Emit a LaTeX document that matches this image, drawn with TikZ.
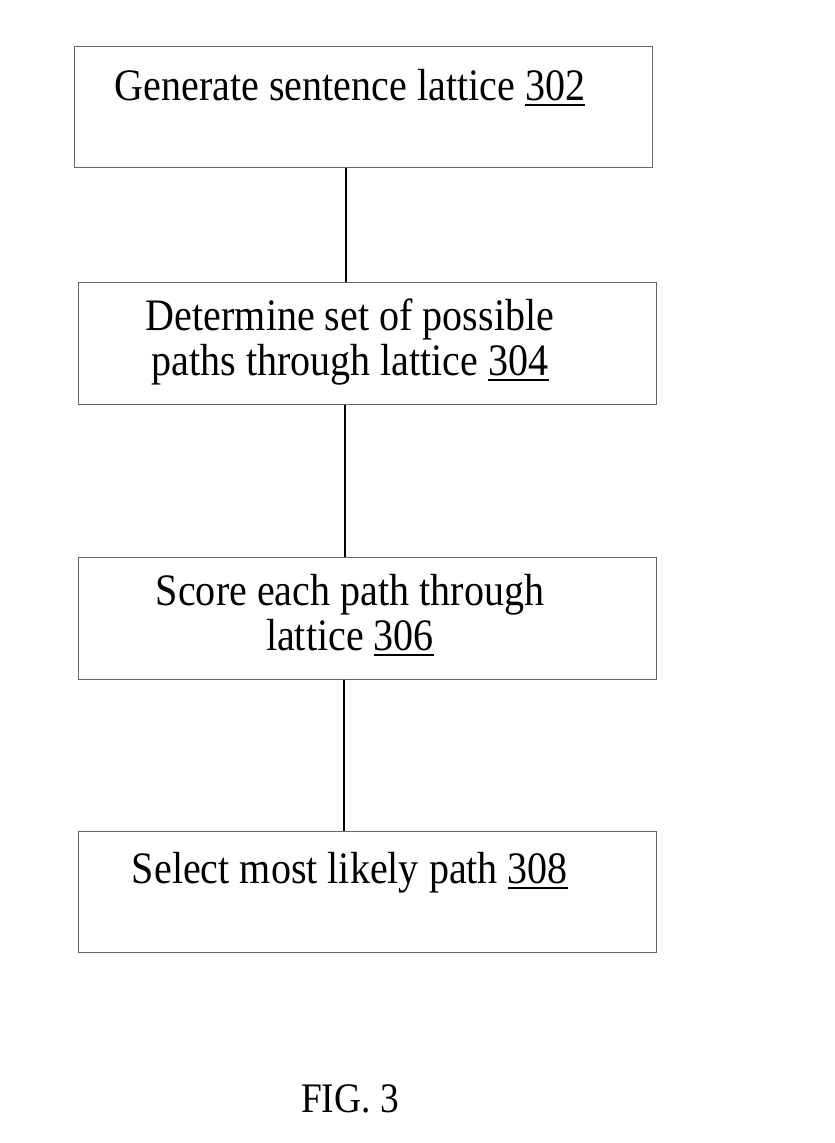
\documentclass[tikz,border=0pt]{standalone}
\usepackage{fontspec}
\setmainfont[FakeStretch=0.89]{Liberation Serif}
\newcommand\refnum[1]{\setbox0\hbox{#1}\rlap{\rule[-6pt]{\wd0}{2.5pt}}\box0}
\begin{document}
\begin{tikzpicture}[x=1pt,y=-1pt,
  stepbox/.style={draw=black!60, line width=1pt, minimum width=578pt, inner sep=0pt},
  steptext/.style={anchor=base, inner sep=0pt, font=\fontsize{45}{50}\selectfont},
  link/.style={line width=2.6pt, black}]
\useasboundingbox (0,0) rectangle (835,1143);
\node[stepbox, minimum height=121pt] (b1) at (363,106.5) {};
\node[stepbox, minimum height=122pt] (b2) at (367,343) {};
\node[stepbox, minimum height=122pt] (b3) at (367,618) {};
\node[stepbox, minimum height=121pt] (b4) at (367,891.5) {};
\node[steptext] (t1) at (350,100) {Generate sentence lattice \refnum{302}};
\node[steptext] (t2a) at (350,330) {Determine set of possible};
\node[steptext] (t2b) at (350,375) {paths through lattice \refnum{304}};
\node[steptext] (t3a) at (350,605) {Score each path through};
\node[steptext] (t3b) at (350,650) {lattice \refnum{306}};
\node[steptext] (t4) at (350,883) {Select most likely path \refnum{308}};
\node[steptext, font=\fontsize{42}{46}\selectfont] (fig) at (350,1112) {FIG. 3};
\draw[link] ([xshift=-17pt]b1.south) -- ([xshift=-21pt]b2.north);
\draw[link] ([xshift=-22pt]b2.south) -- ([xshift=-22pt]b3.north);
\draw[link] ([xshift=-23pt]b3.south) -- ([xshift=-23pt]b4.north);
\end{tikzpicture}
\end{document}
